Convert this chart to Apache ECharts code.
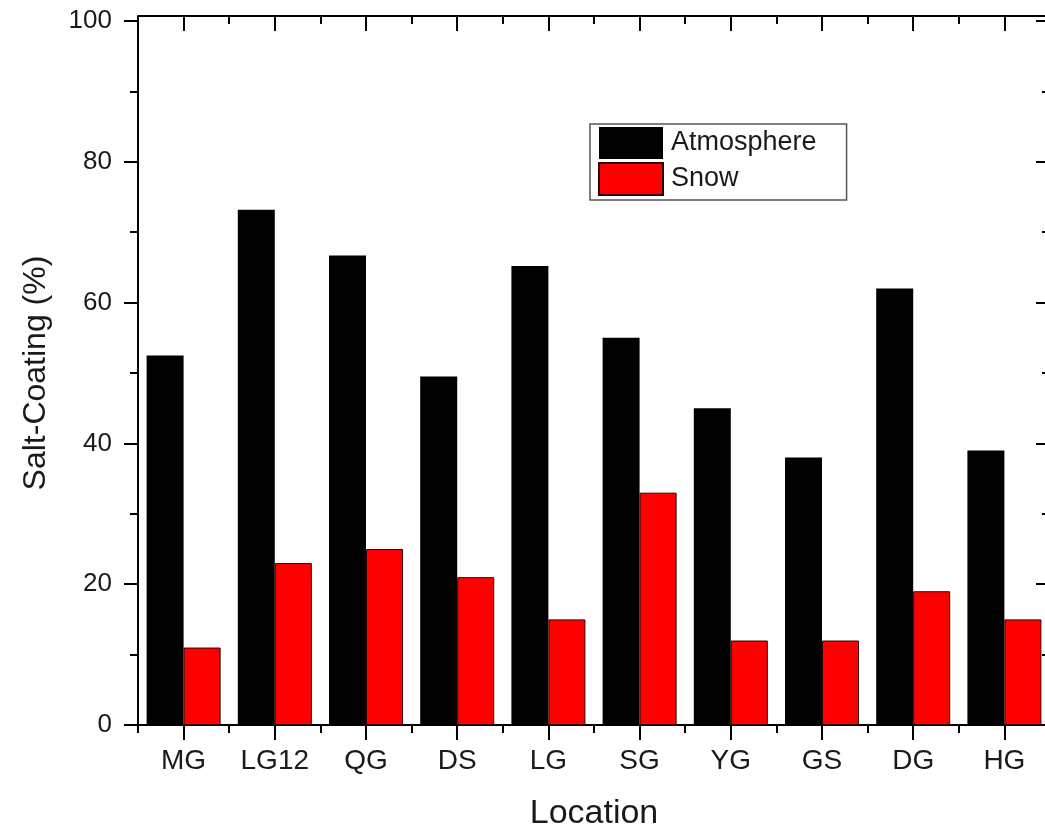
<!DOCTYPE html>
<html>
<head>
    <meta charset="utf-8">
    <title>Salt-Coating</title>
    <script src="https://cdn.jsdelivr.net/npm/echarts@6/dist/echarts.min.js"></script>
    <style>
        html, body { margin: 0; padding: 0; background: #fff; }
    </style>
</head>
<body>
    <div id="chart" style="width: 1045px;height:838px;"></div>
    <script type="text/javascript">
        // data
        var locations = ['MG', 'LG12', 'QG', 'DS', 'LG', 'SG', 'YG', 'GS', 'DG', 'HG'];
        var atmosphere = [52.5, 73.2, 66.7, 49.5, 65.2, 55.0, 45.0, 38.0, 62.0, 39.0];
        var snow = [11.0, 23.0, 25.0, 21.0, 15.0, 33.0, 12.0, 12.0, 19.0, 15.0];
        var yTicks = [0, 20, 40, 60, 80, 100];

        var font = '"Liberation Sans", Arial, sans-serif';
        var ink = '#1a1a1a';
        var line = { color: '#000', width: 2 };

        var chart = echarts.init(document.getElementById('chart'));

        // category axis helper: centre ticks (major) or boundary ticks (minor)
        function catAxis(pos, centre, inside, offset, withLabels) {
            return {
                type: 'category',
                position: pos,
                offset: offset,
                data: locations,
                axisLine: { show: centre, lineStyle: line },
                axisTick: {
                    show: true,
                    alignWithLabel: centre,
                    interval: 0,
                    inside: inside,
                    length: centre ? 15 : 8,
                    lineStyle: line
                },
                axisLabel: {
                    show: withLabels,
                    interval: 0,
                    margin: 22,
                    fontSize: 28,
                    fontFamily: font,
                    color: ink
                },
                splitLine: { show: false }
            };
        }

        var bottomAxis = catAxis('bottom', true, false, 0, true);
        bottomAxis.name = 'Location';
        bottomAxis.nameLocation = 'middle';
        bottomAxis.nameGap = 72;
        bottomAxis.nameTextStyle = { fontSize: 34, fontFamily: font, color: ink };

        function valAxis(pos, inside, withLabels) {
            return {
                type: 'value',
                position: pos,
                min: yTicks[0],
                max: yTicks[yTicks.length - 1],
                interval: yTicks[1] - yTicks[0],
                axisLine: { show: true, lineStyle: line },
                axisTick: { show: true, inside: inside, length: 14, lineStyle: line },
                minorTick: { show: true, splitNumber: 2, length: 8, lineStyle: line },
                axisLabel: {
                    show: withLabels,
                    margin: 26,
                    fontSize: 26,
                    fontFamily: font,
                    color: ink
                },
                splitLine: { show: false }
            };
        }

        var leftAxis = valAxis('left', false, true);
        leftAxis.name = 'Salt-Coating (%)';
        leftAxis.nameLocation = 'middle';
        leftAxis.nameGap = 86;
        leftAxis.nameTextStyle = { fontSize: 32, fontFamily: font, color: ink };

        chart.setOption({
            animation: false,
            backgroundColor: '#fff',
            grid: {
                left: 138, top: 21, width: 912, bottom: 113,
                containLabel: false, outerBoundsMode: 'none'
            },
            legend: {
                orient: 'vertical',
                left: 590,
                top: 124,
                padding: [3, 30, 4, 8],
                itemGap: 3,
                itemWidth: 64,
                itemHeight: 32,
                borderColor: '#555',
                borderWidth: 1.5,
                icon: 'rect',
                textStyle: { fontSize: 27, fontFamily: font, color: ink, padding: [0, 0, 0, 3] },
                data: ['Atmosphere', 'Snow']
            },
            xAxis: [
                bottomAxis,
                catAxis('bottom', false, false, 0, false),
                catAxis('top', true, true, 5, false),
                catAxis('top', false, true, 5, false)
            ],
            yAxis: [
                leftAxis,
                valAxis('right', true, false)
            ],
            series: [
                {
                    name: 'Atmosphere',
                    type: 'bar',
                    xAxisIndex: 0,
                    yAxisIndex: 0,
                    barWidth: 37,
                    barGap: '0%',
                    itemStyle: { color: '#000' },
                    data: atmosphere
                },
                {
                    name: 'Snow',
                    type: 'bar',
                    xAxisIndex: 0,
                    yAxisIndex: 0,
                    barWidth: 37,
                    barGap: '0%',
                    itemStyle: { color: '#ff0000', borderColor: '#300', borderWidth: 1 },
                    data: snow
                }
            ]
        });
    </script>
</body>
</html>
